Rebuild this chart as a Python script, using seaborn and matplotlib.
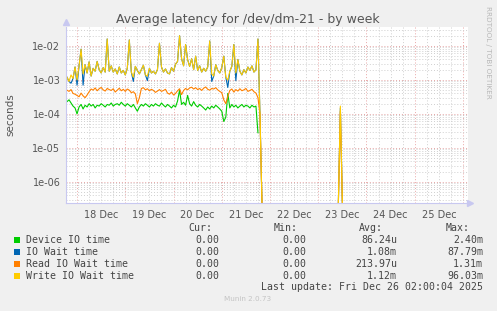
import numpy as np
import pandas as pd
import seaborn as sns
import matplotlib.pyplot as plt
import matplotlib.dates as mdates
from matplotlib.ticker import FuncFormatter, NullFormatter, LogLocator
from matplotlib.patches import Rectangle

W, H = 497, 311

# hourly samples starting 17 Dec 19:00
start = "2025-12-17 19:00"
end = "2025-12-26 02:00"

# Device IO time, units of 1e-4 s
device_io = [2.3, 2.6, 2.1, 1.7, 1.5, 1.0, 1.6, 1.9, 1.4, 1.8,
             1.6, 2.0, 1.7, 1.9, 1.5, 1.8, 1.7, 2.0, 1.8, 1.6,
             1.9, 1.8, 2.1, 1.7, 1.9, 2.0, 1.8, 2.2, 1.9, 1.7,
             2.0, 1.8, 1.6, 1.9, 1.5, 1.2, 1.6, 1.9, 1.7, 2.0,
             1.8, 1.6, 1.9, 1.7, 2.0, 1.8, 1.7, 2.1, 1.8, 1.6,
             1.9, 1.7, 1.5, 1.8, 1.6, 2.4, 5.0, 1.9, 2.2, 1.8,
             3.5, 2.0, 1.7, 2.3, 1.8, 1.6, 1.9, 1.7, 1.5, 1.3,
             1.6, 1.4, 1.7, 1.5, 1.8, 1.6, 1.4, 1.2, 0.6, 0.8,
             4.0, 1.5, 1.9, 1.6, 1.8, 1.5, 1.7, 1.9, 1.6, 1.8,
             1.7, 1.5, 1.8, 1.6, 1.7, 0.28]

# Read IO wait time, units of 1e-4 s
read_wait = [5.0, 4.6, 5.2, 4.0, 3.8, 3.5, 3.2, 4.1, 3.4, 3.0,
             3.6, 4.5, 5.4, 5.0, 5.8, 4.8, 5.5, 6.0, 5.1, 4.7,
             5.6, 5.2, 4.9, 5.5, 4.4, 5.0, 5.7, 4.8, 5.3, 4.6,
             5.4, 5.0, 4.2, 4.5, 3.9, 2.0, 3.0, 5.6, 5.9, 5.1,
             5.5, 4.8, 5.3, 4.9, 4.3, 4.7, 5.2, 4.6, 4.9, 5.3,
             4.1, 3.8, 4.4, 3.6, 4.0, 4.8, 5.5, 3.7, 4.9, 5.6,
             5.1, 5.8, 6.1, 5.4, 5.9, 5.2, 5.6, 4.9, 5.7, 6.2,
             5.3, 5.0, 5.6, 5.4, 5.9, 5.1, 4.6, 4.2, 2.6, 2.0,
             3.3, 4.9, 5.4, 4.4, 5.2, 4.7, 5.5, 4.8, 5.1, 5.6,
             4.6, 4.9, 5.3, 4.5, 4.1, 3.0, 1.0]

# Write IO wait time, units of 1e-3 s
write_wait = [1.2, 0.9, 1.4, 1.1, 2.4, 1.0, 2.6, 8.0, 1.5, 2.8,
              1.6, 3.4, 1.3, 2.2, 1.8, 3.5, 2.0, 1.6, 2.3, 1.7,
              16.0, 1.8, 2.6, 1.7, 2.1, 1.5, 2.4, 1.6, 1.9, 1.4,
              2.2, 15.0, 1.7, 1.2, 2.5, 1.9, 1.5, 2.0, 2.7, 1.4,
              1.3, 2.2, 1.6, 1.8, 1.5, 2.0, 12.0, 2.4, 1.7, 2.1,
              1.6, 1.5, 2.3, 1.8, 2.9, 3.5, 20.0, 4.2, 2.6, 11.0,
              4.0, 2.5, 4.2, 2.0, 5.0, 1.9, 2.6, 1.7, 2.2, 1.8,
              2.4, 14.0, 1.5, 1.3, 2.8, 1.9, 1.6, 2.3, 5.0, 1.2,
              1.0, 1.8, 2.5, 11.0, 1.6, 4.0, 1.8, 1.4, 2.0, 1.6,
              2.4, 1.9, 2.6, 1.7, 2.0, 16.0, 0.1]

# IO wait time, units of 1e-3 s (mostly hidden under write wait)
io_wait = [1.2, 0.9, 0.8, 1.1, 2.4, 0.7, 2.6, 8.0, 0.7, 2.8,
           1.6, 3.4, 1.3, 2.2, 1.8, 3.5, 2.0, 1.6, 2.3, 1.7,
           16.0, 1.8, 2.6, 1.7, 2.1, 1.5, 2.4, 1.6, 1.9, 1.4,
           2.2, 15.0, 1.7, 0.9, 2.5, 1.9, 1.5, 2.0, 2.7, 1.4,
           0.95, 2.2, 1.6, 1.8, 1.5, 2.0, 12.0, 2.4, 1.7, 2.1,
           1.6, 1.5, 2.3, 1.8, 2.9, 3.5, 20.0, 4.2, 2.6, 11.0,
           4.0, 2.5, 4.2, 2.0, 5.0, 1.9, 2.6, 1.7, 2.2, 1.8,
           2.4, 14.0, 0.9, 1.3, 2.8, 1.9, 1.6, 2.3, 5.0, 1.2,
           0.6, 1.8, 2.5, 11.0, 0.95, 4.0, 1.8, 1.4, 2.0, 1.6,
           2.4, 1.9, 2.6, 1.7, 2.0, 16.0, 0.1]

# lone spike on 23 Dec, seconds
spike_time = "2025-12-23 11:00"
spike_io = 1.5e-4
spike_read = 1.2e-4
spike_write = 1.7e-4

series_names = ["Device IO time", "IO Wait time", "Read IO Wait time", "Write IO Wait time"]
colors = ["#00CC00", "#0066B3", "#FF8000", "#FFCC00"]
cur_vals = ["0.00", "0.00", "0.00", "0.00"]
min_vals = ["0.00", "0.00", "0.00", "0.00"]
avg_vals = ["86.24u", "1.08m", "213.97u", "1.12m"]
max_vals = ["2.40m", "87.79m", "1.31m", "96.03m"]

Y_MIN, Y_MAX = 2.4e-7, 3.6e-2
FLOOR = Y_MIN * 0.96  # zero values sit just under the bottom edge

times = pd.date_range(start, end, freq="h")


def full(vals, scale):
    arr = np.zeros(len(times))
    arr[:len(vals)] = np.array(vals) * scale
    return arr


dev = full(device_io, 1e-4)
rd = full(read_wait, 1e-4)
wr = full(write_wait, 1e-3)
io = full(io_wait, 1e-3)
k = times.get_loc(pd.Timestamp(spike_time))
io[k], rd[k], wr[k] = spike_io, spike_read, spike_write

frames = []
for name, arr in zip(series_names, [dev, io, rd, wr]):
    if name == "Device IO time":
        v = np.where(arr > 0, arr, np.nan)
    else:
        v = np.where(arr > 0, arr, FLOOR)
    frames.append(pd.DataFrame({"time": times, "value": v, "series": name}))
df = pd.concat(frames, ignore_index=True)

fig = plt.figure(figsize=(W / 100, H / 100), dpi=100, facecolor="#F0F0F0")
ax = fig.add_axes([66 / W, 1 - 203 / H, (468 - 66) / W, (203 - 27) / H])
ax.set_facecolor("white")

sns.lineplot(data=df, x="time", y="value", hue="series", hue_order=series_names,
             palette=colors, estimator=None, sort=False, linewidth=0.8,
             legend=False, ax=ax)

ax.set_yscale("log")
ax.set_ylim(Y_MIN, Y_MAX)
ax.set_xlim(pd.Timestamp("2025-12-17 18:30"), pd.Timestamp("2025-12-26 02:30"))

ax.yaxis.set_major_locator(LogLocator(base=10))
ax.yaxis.set_minor_locator(LogLocator(base=10, subs=np.arange(2, 10)))
ax.yaxis.set_major_formatter(FuncFormatter(lambda v, p: f"{v:.0e}"))
ax.yaxis.set_minor_formatter(NullFormatter())

ax.xaxis.set_major_locator(mdates.DayLocator())
ax.xaxis.set_major_formatter(NullFormatter())
ax.xaxis.set_minor_locator(mdates.HourLocator(byhour=[6, 12, 18]))


def noon_label(x, pos):
    if abs((x % 1) - 0.5) < 1e-3:
        return mdates.num2date(x).strftime("%d Dec")
    return ""


ax.xaxis.set_minor_formatter(FuncFormatter(noon_label))

dots = (0, (1, 2))
ax.grid(which="minor", color="#cfcfcf", linestyle=dots, linewidth=0.7)
ax.grid(which="major", color="#e8a6a6", linestyle=dots, linewidth=0.7)
ax.set_axisbelow(True)

ax.tick_params(which="both", length=0, labelsize=7, colors="#555555")
ax.tick_params(axis="x", which="minor", pad=5)
ax.tick_params(axis="y", pad=4)
ax.set_xlabel("")
ax.set_ylabel("seconds", fontsize=7.5, color="#555555", labelpad=12)

for s in ["top", "right"]:
    ax.spines[s].set_visible(False)
for s in ["left", "bottom"]:
    ax.spines[s].set_color("#c8c8f0")
    ax.spines[s].set_linewidth(0.8)
ax.plot([0], [1.03], marker="^", ms=4, color="#c8c8f0", transform=ax.transAxes, clip_on=False)
ax.plot([1.005], [0], marker=">", ms=4, color="#c8c8f0", transform=ax.transAxes, clip_on=False)


def px(x, y):
    return x / W, 1 - y / H


fig.text(*px(248, 19), "Average latency for /dev/dm-21 - by week",
         ha="center", va="center", fontsize=9, color="#555555")
fig.text(*px(488, 52), "RRDTOOL / TOBI OETIKER", rotation=270, ha="center",
         va="center", fontsize=5.2, color="#b8b8b8")

mono = dict(family="DejaVu Sans Mono", fontsize=7.1, color="#444444", va="center")
fig.text(*px(212, 228), "Cur:", ha="right", **mono)
fig.text(*px(298, 228), "Min:", ha="right", **mono)
fig.text(*px(383, 228), "Avg:", ha="right", **mono)
fig.text(*px(470, 228), "Max:", ha="right", **mono)

for i, name in enumerate(series_names):
    y = 240 + 12 * i
    fig.add_artist(Rectangle(px(14, y + 3), 6 / W, 6 / H, transform=fig.transFigure,
                             facecolor=colors[i], edgecolor="none"))
    fig.text(*px(26, y), name, ha="left", **mono)
    fig.text(*px(219, y), cur_vals[i], ha="right", **mono)
    fig.text(*px(306, y), min_vals[i], ha="right", **mono)
    fig.text(*px(397, y), avg_vals[i], ha="right", **mono)
    fig.text(*px(483, y), max_vals[i], ha="right", **mono)

fig.text(*px(483, 287), "Last update: Fri Dec 26 02:00:04 2025", ha="right", **mono)
fig.text(*px(248, 299), "Munin 2.0.73", ha="center", va="center", fontsize=5.2, color="#c4c4c4")

fig.savefig("out.png", dpi=100, facecolor=fig.get_facecolor())
